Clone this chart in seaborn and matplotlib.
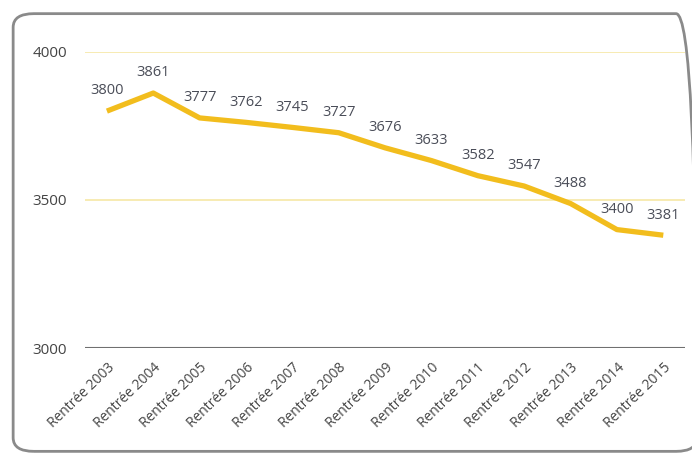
import pandas as pd
import matplotlib
matplotlib.use('Agg')
import matplotlib.pyplot as plt
import seaborn as sns
from matplotlib.patches import FancyBboxPatch

# ================================
# DATA
# ================================
years = ['Rentrée 2003', 'Rentrée 2004', 'Rentrée 2005', 'Rentrée 2006',
         'Rentrée 2007', 'Rentrée 2008', 'Rentrée 2009', 'Rentrée 2010',
         'Rentrée 2011', 'Rentrée 2012', 'Rentrée 2013', 'Rentrée 2014',
         'Rentrée 2015']
values = [3800, 3861, 3777, 3762, 3745, 3727, 3676, 3633, 3582, 3547, 3488, 3400, 3381]
y_ticks = [3000, 3500, 4000]

df = pd.DataFrame({'Rentree': years, 'Valeur': values})
df['pos'] = range(len(df))

# ================================
# STYLE
# ================================
sns.set_style('white')
plt.rcParams['font.family'] = ['Open Sans', 'DejaVu Sans']

line_col = '#f2bd1d'
grid_col = '#f6e7a6'
text_col = '#4a4d58'

fig = plt.figure(figsize=(6.92, 4.55), dpi=100)
ax = fig.add_axes([0.123, 0.235, 0.867, 0.651])

# rounded frame around the chart
frame = FancyBboxPatch((0.019, 0.008), 0.988, 0.962,
                       boxstyle='round,pad=0,rounding_size=0.03',
                       transform=fig.transFigure, fill=False,
                       edgecolor='#8a8a8a', linewidth=2, clip_on=False)
fig.patches.append(frame)

# gridlines
for t in y_ticks[1:]:
    ax.axhline(t, color=grid_col, linewidth=1.2, zorder=1)
ax.axhline(y_ticks[0], color='#707070', linewidth=1.5, zorder=1)

sns.lineplot(data=df, x='pos', y='Valeur', color=line_col,
             linewidth=3.8, ax=ax, zorder=3, solid_capstyle='butt')

for x, v in zip(df['pos'], df['Valeur']):
    ax.annotate(str(v), (x, v), xytext=(0, 14.5), textcoords='offset points',
                ha='center', va='center', fontsize=10.5, color=text_col)

ax.set_xlim(-0.47, 12.47)
ax.set_ylim(3000, 4000)
ax.set_yticks(y_ticks)
ax.set_yticklabels([str(t) for t in y_ticks], fontsize=11, color='#444444')
ax.set_xticks(df['pos'])
ax.set_xticklabels(years, rotation=44, ha='right', rotation_mode='anchor',
                   fontsize=10, color='#444444')
ax.tick_params(axis='y', length=0, pad=13)
ax.tick_params(axis='x', length=0, pad=9)
ax.set_xlabel('')
ax.set_ylabel('')
for s in ax.spines.values():
    s.set_visible(False)
ax.patch.set_alpha(0)

fig.savefig('out.png', dpi=100)
